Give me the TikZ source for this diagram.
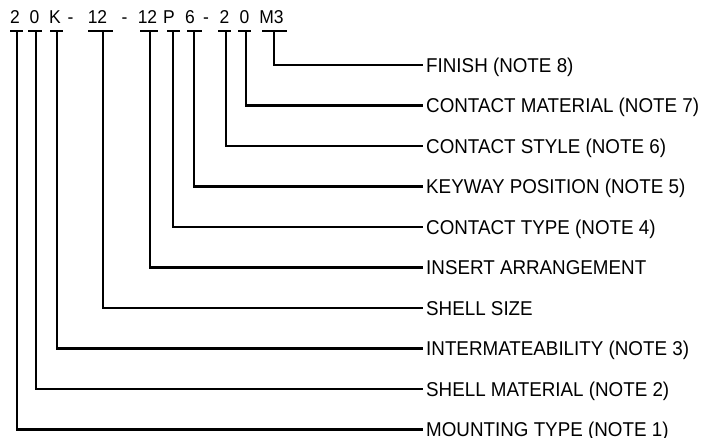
\documentclass[tikz,border=0pt]{standalone}
\usepackage{fontspec}
\setmainfont[FakeStretch=0.94]{Liberation Sans}
\usetikzlibrary{calc}
\tikzset{
  partfield/.style={anchor=west, inner xsep=3pt, inner ysep=0pt,
    text height=14.3pt, text depth=0pt, font=\fontsize{20}{22}\selectfont},
  codechar/.style={anchor=base, inner sep=0pt, font=\fontsize{18.6}{20}\selectfont},
  leader/.style={line width=2.6pt, line join=miter}
}
\begin{document}
\begin{tikzpicture}[x=1pt,y=-1pt]
            \useasboundingbox (0,0) rectangle (707,438);
            \def\rowtop{65}
            \def\rowgap{40.5}
            \def\bary{31}

            % part number
            \foreach \ch/\cx [count=\n] in {2/15, 0/34.5, K/55, -/70.5, 12/97.5, -/124.5,
                                            12/147.5, P/169, 6/190, -/206, 2/224.5, 0/244.5, M3/271.5}
                \node[codechar] (c\n) at (\cx,23.3) {\ch};

            % fields, top down
            \foreach \txt [count=\n] in {FINISH (NOTE 8), CONTACT MATERIAL (NOTE 7),
                    CONTACT STYLE (NOTE 6), KEYWAY POSITION (NOTE 5), CONTACT TYPE (NOTE 4),
                    INSERT ARRANGEMENT, SHELL SIZE, INTERMATEABILITY (NOTE 3),
                    SHELL MATERIAL (NOTE 2), MOUNTING TYPE (NOTE 1)}
                \node[partfield] (f\n) at (423, {\rowtop+\rowgap*(\n-1)}) {\txt};

            % ticks: bar left / bar right / stem / field
            \foreach \bl/\br/\sx/\f in {262/287/274/1, 238/251/246/2, 218/231/226/3,
                    187/202/194/4, 167/180/173/5, 140/158/150/6, 88/113/103/7,
                    50/63/57/8, 28/42/36/9, 10/23/17/10}{
                \draw[leader] (\bl,\bary) -- (\br,\bary);
                \coordinate (s\f) at (\sx,\bary);
                \draw[leader] (s\f) |- (f\f.west);
            }
\end{tikzpicture}
\end{document}
